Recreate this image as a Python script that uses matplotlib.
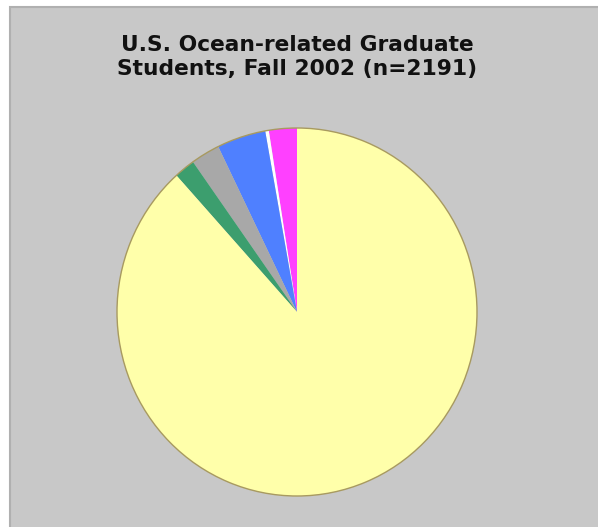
import matplotlib
matplotlib.use("Agg")
from matplotlib import pyplot as plt
from matplotlib.patches import Rectangle

# Fall 2002 ocean-related graduate students (n=2191), counts
categories = ["Other", "Category B", "Category C", "Category D", "Category E", "Category F"]
counts = [55, 7, 96, 57, 41, 1935]
colors = ["#ff40ff", "#ffffff", "#4f80ff", "#a8a8a8", "#3c9e6e", "#ffffaa"]

title = "U.S. Ocean-related Graduate\nStudents, Fall 2002 (n=2191)"

W, H = 598, 527
fig = plt.figure(figsize=(W / 100, H / 100), dpi=100)
fig.patch.set_facecolor("white")

# gray panel behind the chart (runs off the right and bottom edges)
panel = Rectangle((10 / W, -0.05), 1.1 - 10 / W, 1.05 - 7 / H, transform=fig.transFigure,
                  facecolor="#c8c8c8", edgecolor="#b0b0b0", linewidth=1.5, zorder=-5)
fig.patches.append(panel)

fig.text(297 / W, 1 - 57 / H, title, ha="center", va="center", fontsize=15.7,
         fontweight="bold", color="#111111", linespacing=1.3, zorder=5)

# pie axes: x 117..477, y 128..496 (pixels)
ax = fig.add_axes([117 / W, 1 - 496 / H, 360 / W, 368 / H])
ax.set_zorder(2)
ax.patch.set_visible(False)
ax.pie(counts, colors=colors, startangle=90, counterclock=True,
       wedgeprops=dict(edgecolor="none", linewidth=0))
# outline around the whole pie
ax.pie([sum(counts)], colors=["none"], startangle=90,
       wedgeprops=dict(edgecolor="#a89a60", linewidth=1.0, facecolor="none"))
ax.set_aspect("auto")
ax.set_xlim(-1, 1)
ax.set_ylim(-1, 1)
ax.axis("off")

plt.savefig("out.png", dpi=100)
plt.close()
